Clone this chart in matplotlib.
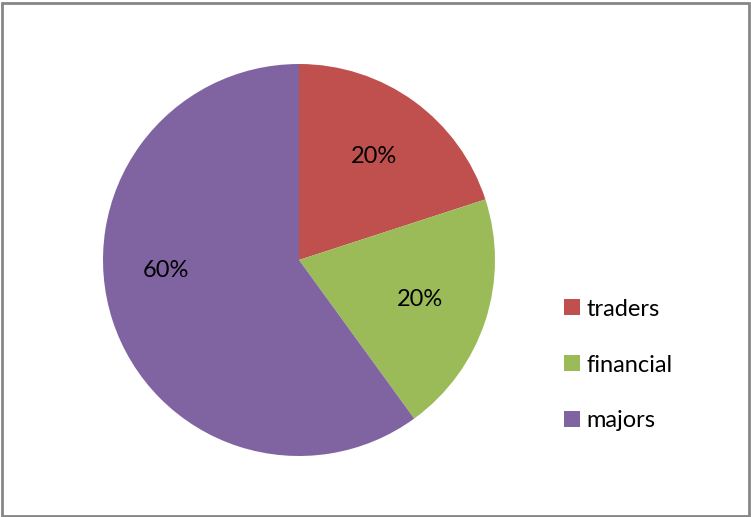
import matplotlib.pyplot as plt
from matplotlib.patches import Rectangle

labels = ['traders', 'financial', 'majors']
shares = [20, 20, 60]
colors = ['#C0504D', '#9BBB59', '#8064A2']

plt.rcParams['font.family'] = ['Lato', 'DejaVu Sans']

W, H = 751, 517
fig = plt.figure(figsize=(W / 100, H / 100), dpi=100)

# pie centred at (299, 260) px with radius 196 px
cx, cy, r = 299, 260, 196
ax = fig.add_axes([(cx - r) / W, 1 - (cy + r) / H, 2 * r / W, 2 * r / H])
wedges, texts, autotexts = ax.pie(
    shares, colors=colors, startangle=90, counterclock=False,
    autopct='%1.0f%%', pctdistance=0.65, radius=1,
    wedgeprops=dict(linewidth=0), textprops=dict(fontsize=17, color='black'))
autotexts[2].set_position((-0.68, -0.055))
ax.set_xlim(-1, 1)
ax.set_ylim(-1, 1)
ax.set_aspect('equal')

fig.legend(wedges, labels, loc='center left',
           bbox_to_anchor=(543 / W, 1 - 365 / H), frameon=False,
           fontsize=17, handlelength=0.65, handleheight=0.65,
           handletextpad=0.3, labelspacing=1.48)

# outer chart border
fig.patches.append(Rectangle((1.5 / W, 1.5 / H), (W - 4) / W, (H - 4) / H,
                             transform=fig.transFigure, fill=False,
                             edgecolor='#868686', linewidth=2))

fig.savefig('out.png', dpi=100)
